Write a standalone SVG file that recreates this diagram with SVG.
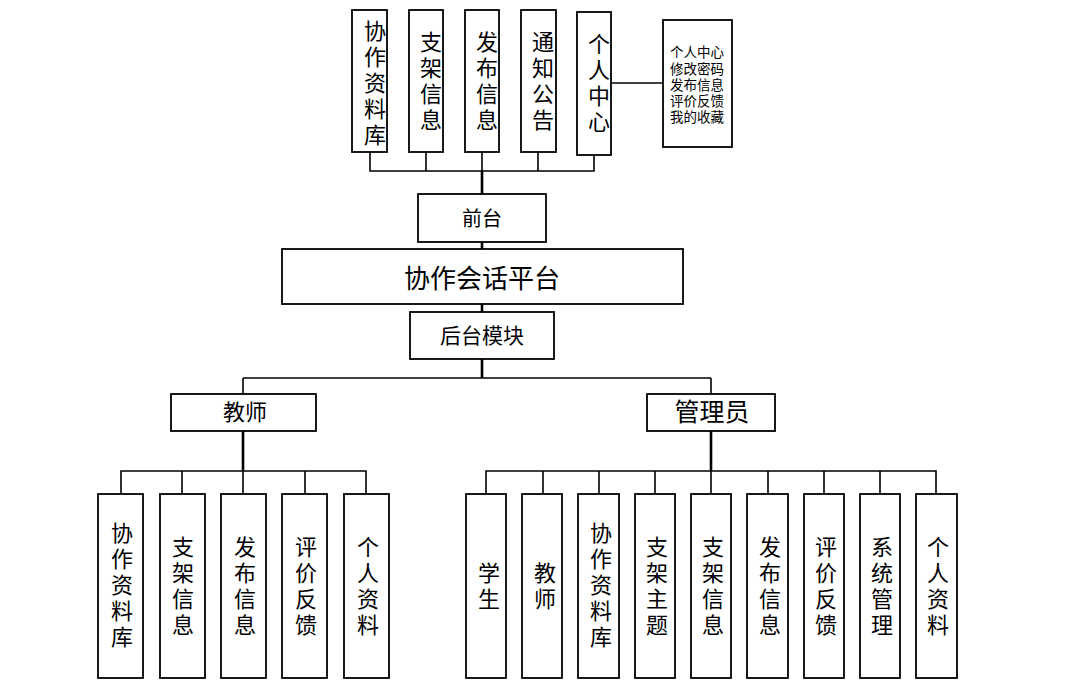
<svg xmlns="http://www.w3.org/2000/svg" width="1077" height="683" viewBox="0 0 1077 683">
<style>
.b{fill:#fff;stroke:#000;stroke-width:1.8}
.t{font-family:"Liberation Serif","Noto Sans CJK SC",serif;fill:#000;text-anchor:middle;dominant-baseline:central}
.c{fill:none;stroke:#000;stroke-width:1.6}
.k{fill:none;stroke:#000;stroke-width:2.6}
</style>
<rect width="1077" height="683" fill="#fff"/>
<g id="connectors">
<path class="c" d="M370 152V171H594V155M426 152V171M482 152V171M538 152V171"/>
<path class="c" d="M611 83H663"/>
<path class="k" d="M482 171V194M482 242V249M482 304V312M482 359V378"/>
<path class="c" d="M243 378H711M243 378V394M711 378V394"/>
<path class="k" d="M243 431V471M711 431V471"/>
<path class="c" d="M121 494V471H366V494M182 471V494M243 471V494M305 471V494"/>
<path class="c" d="M486 494V471H936V494M543 471V494M599 471V494M655 471V494M711 471V494M768 471V494M824 471V494M880 471V494"/>
</g>
<g id="top1"><rect class="b" x="352" y="10" width="35" height="142"/><text class="t" font-size="22"><tspan x="375" y="31">协</tspan><tspan x="375" y="57">作</tspan><tspan x="375" y="83">资</tspan><tspan x="375" y="109">料</tspan><tspan x="375" y="135">库</tspan></text></g>
<g id="top2"><rect class="b" x="409" y="10" width="34" height="142"/><text class="t" font-size="22"><tspan x="431" y="42">支</tspan><tspan x="431" y="68">架</tspan><tspan x="431" y="94">信</tspan><tspan x="431" y="120">息</tspan></text></g>
<g id="top3"><rect class="b" x="465" y="10" width="34" height="142"/><text class="t" font-size="22"><tspan x="487" y="42">发</tspan><tspan x="487" y="68">布</tspan><tspan x="487" y="94">信</tspan><tspan x="487" y="120">息</tspan></text></g>
<g id="top4"><rect class="b" x="521" y="10" width="35" height="142"/><text class="t" font-size="22"><tspan x="543" y="42">通</tspan><tspan x="543" y="68">知</tspan><tspan x="543" y="94">公</tspan><tspan x="543" y="120">告</tspan></text></g>
<g id="top5"><rect class="b" x="577" y="12" width="34" height="143"/><text class="t" font-size="22"><tspan x="599" y="44">个</tspan><tspan x="599" y="70">人</tspan><tspan x="599" y="96">中</tspan><tspan x="599" y="122">心</tspan></text></g>
<g id="personal"><rect class="b" x="663" y="20" width="69" height="127"/><text class="t" font-size="13.5"><tspan x="697" y="52">个人中心</tspan><tspan x="697" y="68.5">修改密码</tspan><tspan x="697" y="85">发布信息</tspan><tspan x="697" y="101">评价反馈</tspan><tspan x="697" y="117">我的收藏</tspan></text></g>
<g id="front"><rect class="b" x="418" y="194" width="128" height="48"/><text class="t" font-size="20" x="482" y="219">前台</text></g>
<g id="platform"><rect class="b" x="282" y="249" width="401" height="55"/><text class="t" font-size="26" x="482" y="279">协作会话平台</text></g>
<g id="back"><rect class="b" x="410" y="312" width="144" height="47"/><text class="t" font-size="21" x="482" y="336">后台模块</text></g>
<g id="teacher"><rect class="b" x="171" y="394" width="145" height="37"/><text class="t" font-size="22" x="245" y="412">教师</text></g>
<g id="admin"><rect class="b" x="647" y="394" width="128" height="37"/><text class="t" font-size="25" x="712" y="412">管理员</text></g>
<g id="t1"><rect class="b" x="98" y="494" width="45" height="184"/><text class="t" font-size="22"><tspan x="122" y="533">协</tspan><tspan x="122" y="559">作</tspan><tspan x="122" y="585">资</tspan><tspan x="122" y="611">料</tspan><tspan x="122" y="637">库</tspan></text></g>
<g id="t2"><rect class="b" x="160" y="494" width="45" height="184"/><text class="t" font-size="22"><tspan x="183" y="547">支</tspan><tspan x="183" y="573">架</tspan><tspan x="183" y="599">信</tspan><tspan x="183" y="625">息</tspan></text></g>
<g id="t3"><rect class="b" x="221" y="494" width="45" height="184"/><text class="t" font-size="22"><tspan x="245" y="547">发</tspan><tspan x="245" y="573">布</tspan><tspan x="245" y="599">信</tspan><tspan x="245" y="625">息</tspan></text></g>
<g id="t4"><rect class="b" x="282" y="494" width="45" height="184"/><text class="t" font-size="22"><tspan x="306" y="547">评</tspan><tspan x="306" y="573">价</tspan><tspan x="306" y="599">反</tspan><tspan x="306" y="625">馈</tspan></text></g>
<g id="t5"><rect class="b" x="344" y="494" width="45" height="184"/><text class="t" font-size="22"><tspan x="368" y="547">个</tspan><tspan x="368" y="573">人</tspan><tspan x="368" y="599">资</tspan><tspan x="368" y="625">料</tspan></text></g>
<g id="a1"><rect class="b" x="466" y="494" width="40" height="184"/><text class="t" font-size="22"><tspan x="489" y="573">学</tspan><tspan x="489" y="599">生</tspan></text></g>
<g id="a2"><rect class="b" x="522" y="494" width="40" height="184"/><text class="t" font-size="22"><tspan x="545" y="573">教</tspan><tspan x="545" y="599">师</tspan></text></g>
<g id="a3"><rect class="b" x="578" y="494" width="41" height="184"/><text class="t" font-size="22"><tspan x="601" y="533">协</tspan><tspan x="601" y="559">作</tspan><tspan x="601" y="585">资</tspan><tspan x="601" y="611">料</tspan><tspan x="601" y="637">库</tspan></text></g>
<g id="a4"><rect class="b" x="635" y="494" width="40" height="184"/><text class="t" font-size="22"><tspan x="657" y="547">支</tspan><tspan x="657" y="573">架</tspan><tspan x="657" y="599">主</tspan><tspan x="657" y="625">题</tspan></text></g>
<g id="a5"><rect class="b" x="691" y="494" width="40" height="184"/><text class="t" font-size="22"><tspan x="713" y="547">支</tspan><tspan x="713" y="573">架</tspan><tspan x="713" y="599">信</tspan><tspan x="713" y="625">息</tspan></text></g>
<g id="a6"><rect class="b" x="747" y="494" width="41" height="184"/><text class="t" font-size="22"><tspan x="770" y="547">发</tspan><tspan x="770" y="573">布</tspan><tspan x="770" y="599">信</tspan><tspan x="770" y="625">息</tspan></text></g>
<g id="a7"><rect class="b" x="804" y="494" width="40" height="184"/><text class="t" font-size="22"><tspan x="826" y="547">评</tspan><tspan x="826" y="573">价</tspan><tspan x="826" y="599">反</tspan><tspan x="826" y="625">馈</tspan></text></g>
<g id="a8"><rect class="b" x="860" y="494" width="40" height="184"/><text class="t" font-size="22"><tspan x="882" y="547">系</tspan><tspan x="882" y="573">统</tspan><tspan x="882" y="599">管</tspan><tspan x="882" y="625">理</tspan></text></g>
<g id="a9"><rect class="b" x="916" y="494" width="41" height="184"/><text class="t" font-size="22"><tspan x="938" y="547">个</tspan><tspan x="938" y="573">人</tspan><tspan x="938" y="599">资</tspan><tspan x="938" y="625">料</tspan></text></g>
</svg>
